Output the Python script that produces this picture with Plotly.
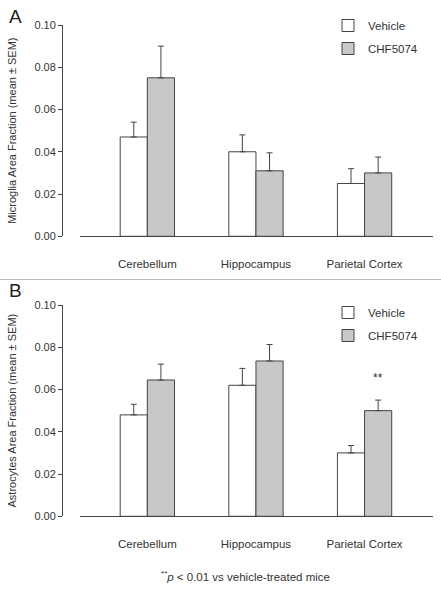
import plotly.graph_objects as go

categories = ["Cerebellum", "Hippocampus", "Parietal Cortex"]
series_names = ["Vehicle", "CHF5074"]

# Panel A: Microglia area fraction
microglia_vehicle = [0.047, 0.040, 0.025]
microglia_vehicle_sem = [0.007, 0.008, 0.007]
microglia_chf = [0.075, 0.031, 0.030]
microglia_chf_sem = [0.015, 0.0085, 0.0075]

# Panel B: Astrocytes area fraction
astro_vehicle = [0.048, 0.062, 0.030]
astro_vehicle_sem = [0.005, 0.008, 0.0035]
astro_chf = [0.0645, 0.0735, 0.050]
astro_chf_sem = [0.0075, 0.0078, 0.005]

y_ticks = [0.0, 0.02, 0.04, 0.06, 0.08, 0.10]
y_ticklabels = ["0.00", "0.02", "0.04", "0.06", "0.08", "0.10"]

W, H = 441, 591
FONT = "Liberation Sans, Arial, sans-serif"
TXT = "#333333"
LINE = "#444444"
FILLS = ["#ffffff", "#c8c8c8"]

xpos = list(range(len(categories)))

fig = go.Figure()

panels = [
    ("x", "y", [microglia_vehicle, microglia_chf], [microglia_vehicle_sem, microglia_chf_sem], "legend"),
    ("x2", "y2", [astro_vehicle, astro_chf], [astro_vehicle_sem, astro_chf_sem], "legend2"),
]
for xa, ya, vals, sems, leg in panels:
    for i, name in enumerate(series_names):
        fig.add_trace(go.Bar(
            x=xpos, y=vals[i], name=name, xaxis=xa, yaxis=ya,
            marker=dict(color=FILLS[i], line=dict(color=LINE, width=1)),
            error_y=dict(type="data", symmetric=False, array=sems[i],
                         arrayminus=[0] * len(sems[i]), color=LINE,
                         thickness=1, width=3),
            legend=leg, legendgroup=leg + name, showlegend=True,
            hoverinfo="skip",
        ))

def px_y(p):
    return 1 - p / H

xdom = [80 / W, 433 / W]
xrange = [-0.62, 2.63]
common_x = dict(range=xrange, showline=True, linecolor=LINE, linewidth=1,
                showgrid=False, zeroline=False, ticks="", tickvals=xpos,
                ticktext=categories, tickfont=dict(size=11.5, color=TXT, family=FONT),
                ticklabelstandoff=17, fixedrange=True, automargin=False)
common_y = dict(range=[0, 0.1], showline=True, linecolor=LINE, linewidth=1,
                showgrid=False, zeroline=False, ticks="outside", ticklen=4,
                tickcolor=LINE, tickvals=y_ticks, ticktext=y_ticklabels,
                tickfont=dict(size=11, color=TXT, family=FONT),
                anchor="free", position=62 / W, fixedrange=True, automargin=False)

fig.update_layout(
    width=W, height=H, margin=dict(l=0, r=0, t=0, b=0, pad=0, autoexpand=False),
    paper_bgcolor="white", plot_bgcolor="white",
    font=dict(family=FONT, color=TXT, size=11),
    barmode="group", bargap=0.5, bargroupgap=0,
    xaxis=dict(domain=xdom, anchor="y", **common_x),
    yaxis=dict(domain=[px_y(236.3), px_y(25)],
               title=dict(text="Microglia Area Fraction (mean ± SEM)",
                          font=dict(size=11, color=TXT), standoff=14),
               **common_y),
    xaxis2=dict(domain=xdom, anchor="y2", **common_x),
    yaxis2=dict(domain=[px_y(516.3), px_y(305)],
                title=dict(text="Astrocytes Area Fraction (mean ± SEM)",
                           font=dict(size=11, color=TXT), standoff=14),
                **common_y),
    legend=dict(x=328 / W, y=px_y(11), xanchor="left", yanchor="top",
                font=dict(size=11.5, color=TXT), tracegroupgap=4,
                bgcolor="rgba(0,0,0,0)", traceorder="grouped"),
    legend2=dict(x=328 / W, y=px_y(298), xanchor="left", yanchor="top",
                 font=dict(size=11.5, color=TXT), tracegroupgap=4,
                 bgcolor="rgba(0,0,0,0)", traceorder="grouped"),
    shapes=[dict(type="line", xref="paper", yref="paper", x0=0, x1=1,
                 y0=px_y(279.5), y1=px_y(279.5), line=dict(color="#bbbbbb", width=1))],
    annotations=[
        dict(text="A", x=7 / W, y=px_y(16), xref="paper", yref="paper",
             xanchor="left", yanchor="middle", showarrow=False,
             font=dict(size=19, color="#222222")),
        dict(text="B", x=7 / W, y=px_y(290), xref="paper", yref="paper",
             xanchor="left", yanchor="middle", showarrow=False,
             font=dict(size=19, color="#222222")),
        dict(text="**", x=2.124, y=0.0655, xref="x2", yref="y2",
             xanchor="center", yanchor="middle", showarrow=False,
             font=dict(size=12, color=TXT)),
        dict(text="<sup>**</sup><i>p</i> &lt; 0.01 vs vehicle-treated mice",
             x=246 / W, y=px_y(576), xref="paper", yref="paper",
             xanchor="center", yanchor="middle", showarrow=False,
             font=dict(size=11.5, color=TXT)),
    ],
)

fig.write_html("out.html", config={"displayModeBar": False},
               post_script="document.body.style.margin='0';")
